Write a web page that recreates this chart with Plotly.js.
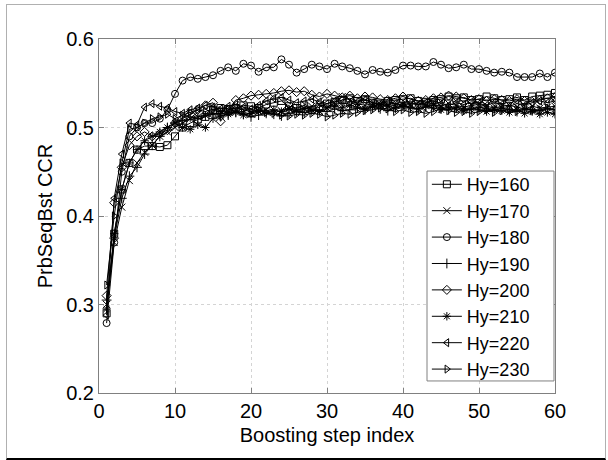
<!DOCTYPE html>
<html>
<head>
<meta charset="utf-8">
<script src="https://cdn.plot.ly/plotly-3.0.1.min.js"></script>
<style>
  html, body { margin: 0; padding: 0; background: #fff; }
  #wrap { position: relative; width: 608px; height: 460px; }
  #chart { width: 608px; height: 460px; }
  #frame { position: absolute; left: 6px; top: 4px; width: 598px; height: 453px;
           border-left: 1px solid #b0b0b0; border-top: 1px solid #b0b0b0; border-right: 1px solid #b0b0b0;
           border-bottom: 2px solid #000; pointer-events: none; }
</style>
</head>
<body>
<div id="wrap"><div id="chart"></div><div id="frame"></div></div>
<script>
const seriesNames = ["Hy=160", "Hy=170", "Hy=180", "Hy=190", "Hy=200", "Hy=210", "Hy=220", "Hy=230"];
const seriesSymbols = ["square-open", "x-thin-open", "circle-open", "cross-thin-open", "diamond-open", "asterisk-open", "triangle-left-open", "triangle-right-open"];

const hy160 = [0.29,0.38,0.43,0.46,0.475,0.479,0.479,0.478,0.48,0.49,0.50,0.505,0.509,0.512,0.52,0.522,0.521,0.522,0.525,0.524,0.522,0.526,0.528,0.530,0.524,0.522,0.525,0.520,0.523,0.527,0.529,0.531,0.533,0.530,0.532,0.528,0.527,0.530,0.531,0.532,0.533,0.530,0.529,0.531,0.532,0.535,0.533,0.534,0.531,0.532,0.535,0.533,0.531,0.532,0.534,0.531,0.535,0.536,0.537,0.539];
const hy170 = [0.30,0.37,0.41,0.44,0.46,0.472,0.48,0.49,0.495,0.50,0.505,0.51,0.512,0.514,0.516,0.515,0.518,0.52,0.517,0.515,0.518,0.52,0.517,0.519,0.522,0.52,0.521,0.524,0.526,0.522,0.528,0.535,0.531,0.527,0.525,0.527,0.526,0.524,0.525,0.527,0.526,0.528,0.525,0.526,0.524,0.527,0.525,0.523,0.525,0.526,0.524,0.522,0.524,0.525,0.523,0.521,0.524,0.522,0.523,0.524];
const hy180 = [0.279,0.37,0.45,0.49,0.50,0.505,0.505,0.51,0.52,0.538,0.553,0.557,0.555,0.557,0.559,0.564,0.568,0.564,0.572,0.570,0.563,0.568,0.568,0.577,0.571,0.562,0.566,0.571,0.569,0.566,0.572,0.569,0.567,0.564,0.560,0.565,0.563,0.562,0.565,0.570,0.570,0.569,0.569,0.574,0.571,0.567,0.568,0.571,0.566,0.566,0.564,0.562,0.563,0.562,0.557,0.557,0.557,0.561,0.557,0.562];
const hy190 = [0.305,0.375,0.42,0.445,0.455,0.47,0.48,0.49,0.50,0.505,0.508,0.512,0.51,0.513,0.515,0.516,0.514,0.517,0.515,0.512,0.514,0.516,0.515,0.513,0.516,0.518,0.517,0.519,0.52,0.518,0.521,0.519,0.52,0.522,0.52,0.523,0.521,0.519,0.522,0.524,0.522,0.521,0.523,0.525,0.522,0.52,0.523,0.521,0.52,0.523,0.521,0.519,0.522,0.52,0.518,0.521,0.52,0.519,0.521,0.52];
const hy200 = [0.31,0.415,0.455,0.48,0.49,0.495,0.49,0.493,0.497,0.505,0.51,0.515,0.52,0.525,0.528,0.507,0.52,0.531,0.533,0.536,0.537,0.538,0.539,0.541,0.542,0.54,0.541,0.537,0.535,0.538,0.536,0.534,0.536,0.533,0.535,0.534,0.532,0.531,0.533,0.535,0.532,0.53,0.531,0.533,0.534,0.536,0.535,0.533,0.531,0.532,0.53,0.532,0.531,0.53,0.532,0.53,0.529,0.531,0.533,0.534];
const hy210 = [0.295,0.38,0.43,0.46,0.475,0.485,0.49,0.495,0.50,0.505,0.50,0.498,0.503,0.50,0.51,0.513,0.515,0.517,0.514,0.516,0.519,0.517,0.52,0.518,0.521,0.519,0.522,0.52,0.518,0.522,0.524,0.522,0.525,0.523,0.521,0.524,0.526,0.524,0.522,0.525,0.523,0.521,0.524,0.522,0.52,0.523,0.521,0.519,0.522,0.52,0.518,0.521,0.519,0.517,0.52,0.516,0.518,0.515,0.517,0.515];
const hy220 = [0.288,0.42,0.47,0.505,0.503,0.523,0.527,0.524,0.522,0.518,0.516,0.52,0.522,0.525,0.523,0.521,0.524,0.526,0.523,0.521,0.525,0.53,0.533,0.534,0.531,0.528,0.53,0.532,0.529,0.527,0.53,0.528,0.526,0.529,0.531,0.528,0.526,0.529,0.527,0.525,0.528,0.526,0.528,0.53,0.527,0.525,0.528,0.526,0.529,0.527,0.525,0.528,0.526,0.524,0.527,0.525,0.528,0.53,0.528,0.53];
const hy230 = [0.322,0.40,0.46,0.498,0.50,0.505,0.51,0.512,0.515,0.51,0.514,0.517,0.52,0.518,0.521,0.519,0.52,0.522,0.52,0.518,0.52,0.517,0.516,0.514,0.513,0.515,0.514,0.516,0.515,0.512,0.514,0.516,0.515,0.517,0.519,0.52,0.522,0.521,0.518,0.52,0.517,0.518,0.516,0.518,0.521,0.519,0.517,0.518,0.516,0.518,0.52,0.517,0.519,0.52,0.518,0.521,0.519,0.52,0.522,0.52];

const seriesValues = [hy160, hy170, hy180, hy190, hy200, hy210, hy220, hy230];
const xTickVals = [0, 10, 20, 30, 40, 50, 60];
const yTickVals = [0.2, 0.3, 0.4, 0.5, 0.6];

const traces = seriesValues.map((vals, i) => ({
  type: 'scatter',
  mode: 'lines+markers',
  name: seriesNames[i],
  x: vals.map((_, k) => k + 1),
  y: vals,
  line: { color: '#000', width: 1 },
  marker: { symbol: seriesSymbols[i], size: 7, color: '#000', line: { color: '#000', width: 1 } }
}));

const axisCommon = {
  showline: true, linecolor: '#808080', linewidth: 1, mirror: 'ticks',
  ticks: 'inside', ticklen: 5, tickcolor: '#808080',
  showgrid: true, gridcolor: '#d4d4d4', griddash: 'dot', gridwidth: 1,
  zeroline: false,
  tickfont: { family: 'Arial, "Liberation Sans", sans-serif', size: 20, color: '#000' }
};

const layout = {
  width: 608, height: 460,
  margin: { l: 99, r: 53, t: 39, b: 67 },
  paper_bgcolor: '#fff', plot_bgcolor: '#fff',
  font: { family: 'Arial, "Liberation Sans", sans-serif', size: 20, color: '#000' },
  showlegend: true,
  legend: {
    x: 0.719, y: 0.641, xanchor: 'left', yanchor: 'top',
    bgcolor: 'rgba(0,0,0,0)', borderwidth: 0,
    font: { size: 18, color: '#000' }, tracegroupgap: 0
  },
  shapes: [{
    type: 'rect', xref: 'paper', yref: 'paper',
    x0: 0.7193, x1: 0.9978, y0: 0.034, y1: 0.627,
    line: { color: '#808080', width: 1 }, fillcolor: '#fff', layer: 'above'
  }],
  xaxis: Object.assign({}, axisCommon, {
    range: [0, 60], tickvals: xTickVals, ticktext: xTickVals.map(String),
    title: { text: 'Boosting step index', font: { size: 20 }, standoff: 6 }
  }),
  yaxis: Object.assign({}, axisCommon, {
    range: [0.2, 0.6], tickvals: yTickVals, ticktext: yTickVals.map(v => v.toFixed(1)),
    title: { text: 'PrbSeqBst CCR', font: { size: 20 }, standoff: 8 }
  })
};

Plotly.newPlot('chart', traces, layout, { displayModeBar: false, staticPlot: true });
</script>
</body>
</html>
